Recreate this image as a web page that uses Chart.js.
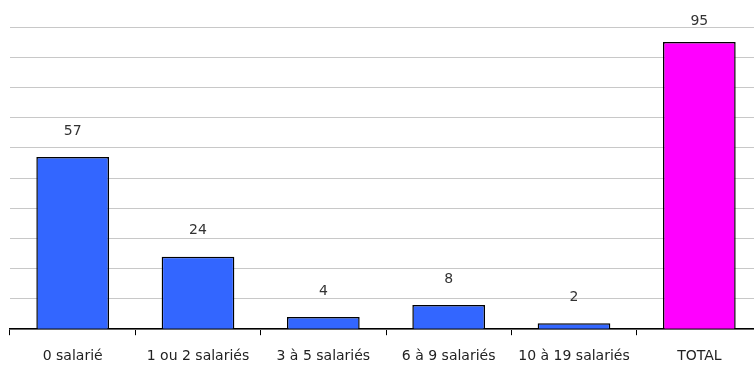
<!DOCTYPE html>
<html>
<head>
<meta charset="utf-8">
<script src="https://cdn.jsdelivr.net/npm/chart.js@4"></script>
<style>
  html, body { margin: 0; padding: 0; background: #fff; overflow: hidden; width: 754px; height: 367px; }
  #wrap { width: 762px; height: 378px; }
</style>
</head>
<body>
<div id="wrap"><canvas id="chart_salaries" width="762" height="378"></canvas></div>
<script>
var categories = ["0 salarié", "1 ou 2 salariés", "3 à 5 salariés", "6 à 9 salariés", "10 à 19 salariés", "TOTAL"];
var values = [57, 24, 4, 8, 2, 95];
var barColors = ["#3366ff", "#3366ff", "#3366ff", "#3366ff", "#3366ff", "#ff00ff"];

var fontFamily = "'DejaVu Sans', sans-serif";

// draws the value above each bar
var valueLabels = {
  id: 'valueLabels',
  afterDatasetsDraw: function(chart) {
    var ctx = chart.ctx;
    var meta = chart.getDatasetMeta(0);
    ctx.save();
    ctx.font = "14px " + fontFamily;
    ctx.fillStyle = "#333";
    ctx.textAlign = "center";
    ctx.textBaseline = "middle";
    meta.data.forEach(function(bar, i) {
      ctx.fillText(values[i], bar.x, Math.max(bar.y - 26, 21));
    });
    ctx.restore();
  }
};

new Chart(document.getElementById("chart_salaries").getContext("2d"), {
  type: 'bar',
  data: {
    labels: categories,
    datasets: [{
      data: values,
      backgroundColor: barColors,
      borderColor: "#000",
      borderWidth: 1.5,
      categoryPercentage: 1,
      barPercentage: 0.58
    }]
  },
  options: {
    responsive: false,
    animation: false,
    layout: { padding: { left: 10, right: 0, top: 27, bottom: 0 } },
    plugins: { legend: { display: false }, tooltip: { enabled: false } },
    scales: {
      x: {
        offset: true,
        grid: { offset: true, drawOnChartArea: false, color: "#000", tickLength: 6, lineWidth: 1 },
        border: { color: "#000", width: 1.5 },
        ticks: { color: "#222", font: { family: fontFamily, size: 14 }, padding: 13, maxRotation: 0 }
      },
      y: {
        min: 0,
        max: 100,
        ticks: { display: false, stepSize: 10 },
        grid: { color: "#c8c8c8", lineWidth: 1, drawTicks: false },
        border: { display: false }
      }
    }
  },
  plugins: [valueLabels]
});
</script>
</body>
</html>
